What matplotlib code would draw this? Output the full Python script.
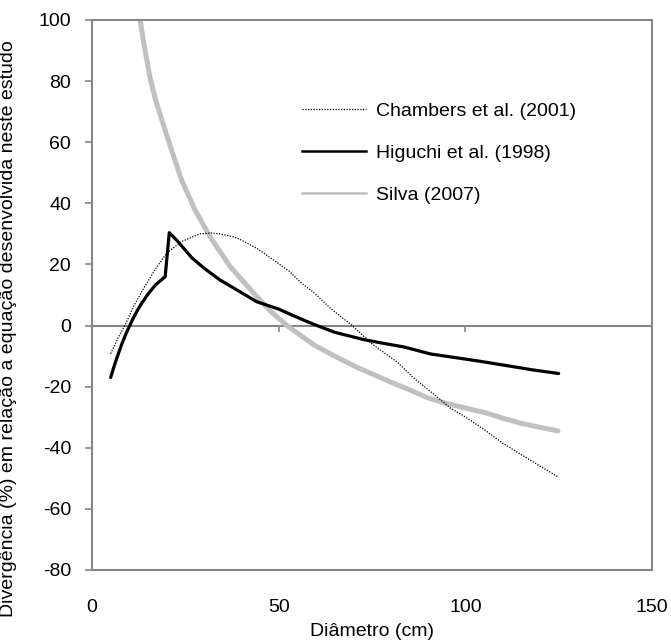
import numpy as np
import matplotlib
matplotlib.use("Agg")
import matplotlib.pyplot as plt

plt.rcParams["font.family"] = ["Liberation Sans", "DejaVu Sans"]
plt.rcParams["axes.unicode_minus"] = False

# Diâmetro (cm) e divergência (%) de cada equação
chambers_d = [5, 7, 9, 11.1, 14, 17, 20, 24, 28.9, 32, 34.3, 38, 40, 44.1, 48, 52.8, 56, 59.4,
              64, 69.7, 75, 81.8, 86, 91.6, 96, 99.6, 105, 110, 114, 120, 124.7]
chambers_div = [-9.2, -4, 0.5, 6.2, 12.5, 18.5, 23.7, 27.5, 30, 30.3, 30, 29, 28, 25.3, 22, 17.8, 14, 10.8,
                5.5, 0, -6, -12, -17, -22.5, -27, -29.6, -34, -38.5, -41.5, -46, -49.4]

higuchi_d = [5, 6, 7, 8, 9, 10, 11, 12, 13, 15, 17, 19.6, 20.7, 23, 26.8, 30, 34.3, 40, 44.1,
             50, 54, 59, 65, 72.8, 78, 83.5, 90.7, 99.6, 104, 112, 118, 125]
higuchi_div = [-17, -13, -9.4, -6, -3, -0.3, 2.3, 4.6, 6.7, 10.3, 13.3, 16, 30.4, 27.5, 22.1, 18.8,
               14.9, 10.8, 7.8, 5.4, 3.2, 0.6, -2.2, -4.6, -5.8, -7.0, -9.3, -10.9, -11.7, -13.3,
               -14.5, -15.7]

silva_d = [12.9, 14, 15.5, 17, 18.7, 21.3, 24, 27.6, 31.6, 37, 44.1, 48, 52.2, 56,
           59.4, 65, 71, 75, 80, 85, 89.8, 95, 100, 105, 110, 115, 120, 124.8]
silva_div = [100, 91.5, 81.4, 74, 67.3, 57.5, 47.6, 37.8, 29.1, 19.3, 9.5, 4.5, 0, -3.3,
             -6.3, -10, -13.7, -15.8, -18.5, -21, -23.6, -25.5, -27, -28.4, -30.3, -32, -33.3, -34.5]

series_labels = ["Chambers et al. (2001)", "Higuchi et al. (1998)", "Silva (2007)"]

x_ticks = [0, 50, 100, 150]
y_ticks = np.arange(-80, 101, 20)
y_lim = (-80, 100)

axis_gray = "#868686"
silva_gray = "#C0C0C0"
fs = 14

fig = plt.figure(figsize=(6.71, 6.44), dpi=100)
ax = fig.add_axes([92 / 671, 74 / 644, 560 / 671, 550 / 644])

ax.plot(silva_d, silva_div, color=silva_gray, lw=3.6, solid_capstyle="round", zorder=2)
ax.plot(higuchi_d, higuchi_div, color="black", lw=2.3, solid_capstyle="round", zorder=3)
ax.plot(chambers_d, chambers_div, color="black", lw=0.9, linestyle=(0, (1, 1.2)), zorder=4)

ax.set_xlim(0, 150)
ax.set_ylim(*y_lim)
ax.set_xticks(x_ticks)
ax.set_yticks(y_ticks)

for sp in ax.spines.values():
    sp.set_color(axis_gray)
    sp.set_linewidth(1.5)

ax.tick_params(axis="x", length=0, pad=21, labelsize=fs)
ax.tick_params(axis="y", direction="out", length=5, width=1.2, color=axis_gray,
               pad=10, labelsize=fs)

# eixo horizontal cruzando em y = 0 (com marcas para baixo)
zero_pos = (0 - y_lim[0]) / (y_lim[1] - y_lim[0])
zero_axis = ax.secondary_xaxis(zero_pos)
zero_axis.set_xticks(x_ticks)
zero_axis.set_xticklabels([])
zero_axis.tick_params(direction="out", length=4, width=1.2, color=axis_gray)
zero_axis.spines["bottom"].set_color(axis_gray)
zero_axis.spines["bottom"].set_linewidth(1.5)

ax.set_xlabel("Diâmetro (cm)", fontsize=fs, labelpad=5)
ax.set_ylabel("Divergência (%) em relação a equação desenvolvida neste estudo", fontsize=fs)
ax.yaxis.set_label_coords(-0.134, 0.438)

handles = [
    plt.Line2D([0], [0], color="black", lw=0.9, linestyle=(0, (1, 1.2))),
    plt.Line2D([0], [0], color="black", lw=1.8),
    plt.Line2D([0], [0], color=silva_gray, lw=1.8),
]
ax.legend(handles, series_labels, loc="upper left", bbox_to_anchor=(0.375, 0.85),
          frameon=False, fontsize=fs, handlelength=3.3, handletextpad=0.5,
          labelspacing=1.25, borderpad=0, borderaxespad=0)

fig.savefig("out.png", dpi=100)
